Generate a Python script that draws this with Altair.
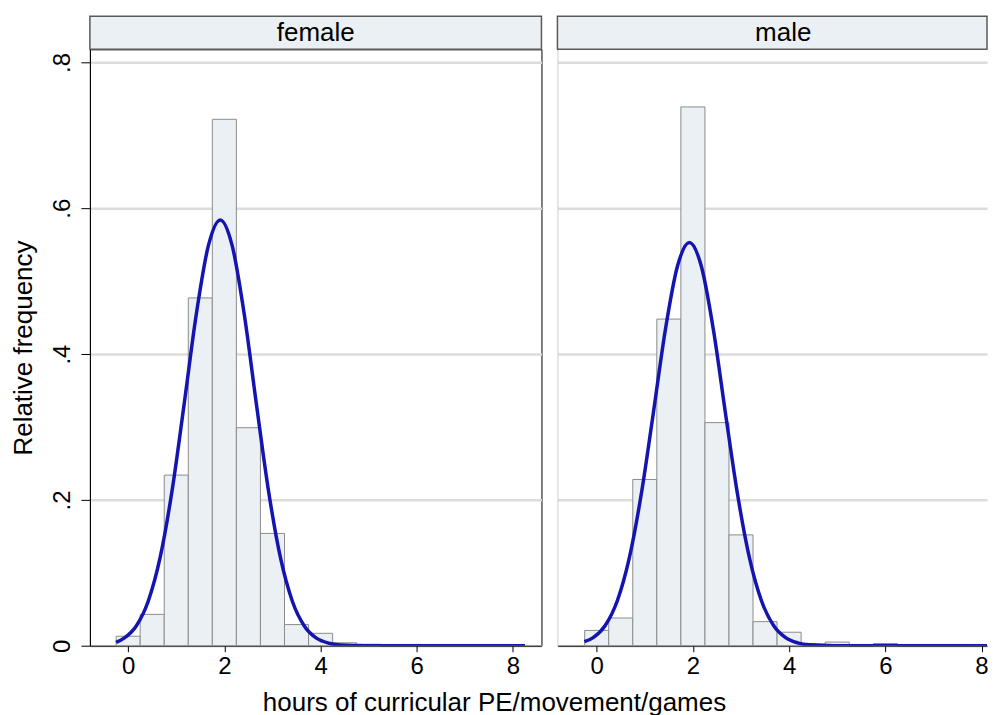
import altair as alt
import pandas as pd

# ---------------- data ----------------
female_centers = [0.0, 0.5, 1.0, 1.5, 2.0, 2.5, 3.0, 3.5, 4.0, 4.5, 5.0]
female_freq = [0.013, 0.043, 0.234, 0.477, 0.722, 0.299, 0.154, 0.029, 0.017, 0.004, 0.002]

male_centers = [0.0, 0.5, 1.0, 1.5, 2.0, 2.5, 3.0, 3.5, 4.0, 4.5, 5.0, 6.0]
male_freq = [0.021, 0.038, 0.228, 0.448, 0.739, 0.306, 0.152, 0.033, 0.0185, 0.002, 0.005, 0.003]

# normal-curve overlays, points
female_curve_x = [-0.25, -0.085, 0.165, 0.415, 0.665, 0.915, 1.165, 1.415, 1.665, 1.915,
                  2.165, 2.415, 2.665, 2.915, 3.165, 3.415, 3.665, 3.915, 4.165, 4.415,
                  4.915, 6.0, 7.0, 8.25]
female_curve_y = [0.0045, 0.0104, 0.0268, 0.0607, 0.121, 0.2136, 0.332, 0.454, 0.548, 0.584,
                  0.548, 0.454, 0.332, 0.2136, 0.121, 0.0607, 0.0268, 0.0104, 0.0036, 0.0011,
                  0.00007, 0.0, 0.0, 0.0]

male_curve_x = [-0.256, -0.073, 0.177, 0.427, 0.677, 0.927, 1.177, 1.427, 1.677, 1.927,
                2.177, 2.427, 2.677, 2.927, 3.177, 3.427, 3.677, 3.927, 4.177, 4.427,
                4.927, 6.0, 7.0, 8.3]
male_curve_y = [0.0055, 0.0111, 0.0277, 0.0613, 0.120, 0.208, 0.319, 0.433, 0.520, 0.553,
                0.520, 0.433, 0.319, 0.208, 0.120, 0.0613, 0.0277, 0.0111, 0.0039, 0.0012,
                0.0001, 0.0, 0.0, 0.0]

panel_labels = ["female", "male"]
x_ticks = [0, 2, 4, 6, 8]
y_ticks = [0, 0.2, 0.4, 0.6, 0.8]
x_title = "hours of curricular PE/movement/games"
y_title = "Relative frequency"
bin_width = 0.5

# ---------------- styling ----------------
FONT = "Liberation Sans"
H = 597
W_L, W_R = 452, 430
XDOM_L = [-0.795, 8.592]
XDOM_R = [-0.816, 8.114]
YDOM = [0, 0.818]
BAR_FILL = "#eaf0f3"
BAR_STROKE = "#8c8c8c"
CURVE = "#1414b0"
GRID = "#dcdcdc"


def panel(label, centers, freqs, cx, cy, width, xdom, left):
    bars_df = pd.DataFrame({"center": centers, "freq": freqs})
    curve_df = pd.DataFrame({"x": cx, "y": cy})
    one = pd.DataFrame({"label": [label]})

    xscale = alt.Scale(domain=xdom, nice=False, zero=False)
    yscale = alt.Scale(domain=YDOM, nice=False, zero=False)
    xaxis = alt.Axis(values=x_ticks, format="d", title=None, grid=False,
                     domainColor="black", domainWidth=1, tickColor="black", tickSize=6,
                     labelFontSize=24, labelPadding=3, labelColor="black")
    if left:
        yaxis = alt.Axis(values=y_ticks, title=y_title, grid=True, gridColor=GRID, gridWidth=2.5,
                         labelExpr="datum.value == 0 ? '0' : replace(format(datum.value, '.1f'), '0.', '.')",
                         labelAngle=-90, labelAlign="center", labelBaseline="bottom",
                         labelFontSize=24, labelPadding=6, labelColor="black",
                         tickColor="black", tickSize=9, domainColor="black", domainWidth=1,
                         titleFontSize=26, titleFontWeight="normal", titleColor="black", titlePadding=14)
    else:
        yaxis = alt.Axis(values=y_ticks, title=None, grid=True, gridColor=GRID, gridWidth=2.5,
                         labels=False, ticks=False, domain=True, domainColor="#cfcfcf", domainWidth=1)

    bars = alt.Chart(bars_df).mark_rect(fill=BAR_FILL, stroke=BAR_STROKE, strokeWidth=1).transform_calculate(
        lo=f"datum.center - {bin_width / 2}", hi=f"datum.center + {bin_width / 2}"
    ).encode(
        x=alt.X("lo:Q", scale=xscale, axis=xaxis),
        x2="hi:Q",
        y=alt.Y("freq:Q", scale=yscale, axis=yaxis),
        y2=alt.datum(0),
    )

    curve = alt.Chart(curve_df).mark_line(color=CURVE, strokeWidth=3.5, interpolate="monotone",
                                          clip=True).encode(
        x=alt.X("x:Q", scale=xscale),
        y=alt.Y("y:Q", scale=yscale),
    )

    header_box = alt.Chart(one).mark_rect(fill=BAR_FILL, stroke="#5a5a5a", strokeWidth=1.5).encode(
        x=alt.value(0), x2=alt.value(width), y=alt.value(-33), y2=alt.value(0)
    )
    header_text = alt.Chart(one).mark_text(fontSize=26, baseline="middle", align="center",
                                           color="black", font=FONT).encode(
        x=alt.value(width / 2 if left else 226), y=alt.value(-16), text="label:N"
    )

    layers = [header_box, bars, curve, header_text]
    if left:
        xt = alt.Chart(one).mark_text(fontSize=26, baseline="alphabetic", align="center",
                                      color="black", font=FONT).encode(
            x=alt.value(405), y=alt.value(H + 65), text=alt.value(x_title)
        )
        layers.append(xt)

    view = alt.ViewBackground(stroke="black", strokeWidth=1) if left else alt.ViewBackground(strokeWidth=0)
    return alt.layer(*layers).properties(width=width, height=H, view=view)


left = panel(panel_labels[0], female_centers, female_freq, female_curve_x, female_curve_y, W_L, XDOM_L, True)
right = panel(panel_labels[1], male_centers, male_freq, male_curve_x, male_curve_y, W_R, XDOM_R, False)

chart = alt.hconcat(left, right, spacing=16, bounds="flush").properties(
    padding={"left": 2, "top": 6, "right": 0, "bottom": 0},
    background="white",
).configure(font=FONT)

chart.save("out.html", embed_options={"renderer": "svg", "actions": False})
